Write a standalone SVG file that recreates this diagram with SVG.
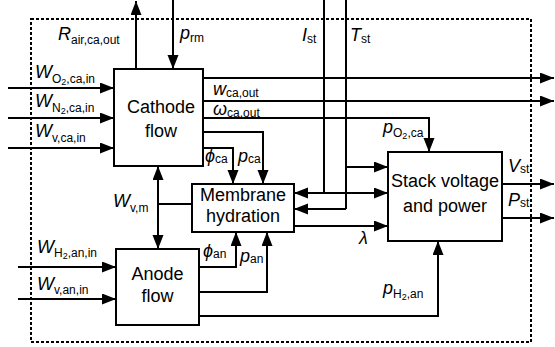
<svg xmlns="http://www.w3.org/2000/svg" width="555" height="347" viewBox="0 0 555 347">
<style>
.box{fill:#fff;stroke:#000;stroke-width:2}
.ln{fill:none;stroke:#000;stroke-width:2}
.frame{fill:none;stroke:#000;stroke-width:2;stroke-dasharray:3,2}
.arr{marker-end:url(#ah)}
.t{font-family:"Liberation Sans",Arial,sans-serif;font-size:18px;fill:#000;text-anchor:middle}
.v{font-family:"Liberation Sans",Arial,sans-serif;font-size:18px;font-style:italic;fill:#000}
.s{font-size:12px;font-style:normal}
.ss{font-size:9px;font-style:normal}
</style>
<defs>
<marker id="ah" markerUnits="userSpaceOnUse" markerWidth="15" markerHeight="12" refX="14" refY="5.5" orient="auto">
<path d="M0,0 L14,5.5 L0,11 z" fill="#000"/>
</marker>
<marker id="ahs" markerUnits="userSpaceOnUse" markerWidth="15" markerHeight="12" refX="14" refY="5.5" orient="auto-start-reverse">
<path d="M0,0 L14,5.5 L0,11 z" fill="#000"/>
</marker>
</defs>
<rect class="frame" x="31" y="19" width="500" height="323"/>
<g id="connectors">
<line class="ln arr" x1="136" y1="69" x2="136" y2="1"/>
<line class="ln arr" x1="173" y1="0" x2="173" y2="69"/>
<line class="ln arr" x1="8" y1="88" x2="114" y2="88"/>
<line class="ln arr" x1="8" y1="118" x2="114" y2="118"/>
<line class="ln arr" x1="8" y1="148" x2="114" y2="148"/>
<line class="ln arr" x1="203" y1="78" x2="554" y2="78"/>
<line class="ln arr" x1="203" y1="101" x2="554" y2="101"/>
<polyline class="ln arr" points="203,118 429,118 429,152"/>
<polyline class="ln arr" points="203,132 263,132 263,184"/>
<polyline class="ln arr" points="203,148 233,148 233,184"/>
<line class="ln" x1="158" y1="166" x2="158" y2="249" marker-start="url(#ahs)" marker-end="url(#ahs)"/>
<line class="ln" x1="158" y1="204" x2="192" y2="204"/>
<line class="ln arr" x1="18" y1="267" x2="116" y2="267"/>
<line class="ln arr" x1="18" y1="299" x2="116" y2="299"/>
<polyline class="ln arr" points="199,267 236,267 236,232"/>
<polyline class="ln arr" points="199,292 267,292 267,232"/>
<polyline class="ln arr" points="199,316 438,316 438,241"/>
<line class="ln" x1="324" y1="0" x2="324" y2="193"/>
<line class="ln" x1="346" y1="0" x2="346" y2="209"/>
<line class="ln arr" x1="346" y1="167" x2="388" y2="167"/>
<line class="ln" x1="294" y1="193" x2="388" y2="193" marker-start="url(#ahs)" marker-end="url(#ahs)"/>
<line class="ln arr" x1="346" y1="209" x2="294" y2="209"/>
<line class="ln arr" x1="294" y1="226" x2="388" y2="226"/>
<line class="ln arr" x1="502" y1="184" x2="554" y2="184"/>
<line class="ln arr" x1="502" y1="218" x2="554" y2="218"/>
</g>
<g id="cathode">
<rect class="box" x="114" y="69" width="89" height="97"/>
<text class="t" x="161" y="113">Cathode</text>
<text class="t" x="161" y="137">flow</text>
</g>
<g id="membrane">
<rect class="box" x="192" y="184" width="102" height="48"/>
<text class="t" x="243" y="201">Membrane</text>
<text class="t" x="243" y="222">hydration</text>
</g>
<g id="anode">
<rect class="box" x="116" y="249" width="83" height="76"/>
<text class="t" x="157.5" y="280">Anode</text>
<text class="t" x="157.5" y="302">flow</text>
</g>
<g id="stack">
<rect class="box" x="388" y="152" width="114" height="89"/>
<text class="t" x="445" y="187">Stack voltage</text>
<text class="t" x="445" y="212">and power</text>
</g>
<g id="labels">
<text class="v" x="58" y="40">R<tspan class="s" dy="4">air,ca,out</tspan></text>
<text class="v" x="180" y="39">p<tspan class="s" dy="3">rm</tspan></text>
<text class="v" x="302" y="41">I<tspan class="s" dy="2">st</tspan></text>
<text class="v" x="350" y="41">T<tspan class="s" dy="2">st</tspan></text>
<text class="v" x="35" y="78">W<tspan class="s" dy="5">O</tspan><tspan class="ss" dy="2">2</tspan><tspan class="s" dy="-2">,ca,in</tspan></text>
<text class="v" x="35" y="107">W<tspan class="s" dy="5">N</tspan><tspan class="ss" dy="2">2</tspan><tspan class="s" dy="-2">,ca,in</tspan></text>
<text class="v" x="35" y="137">W<tspan class="s" dy="5">v,ca,in</tspan></text>
<text class="v" x="213" y="95">w<tspan class="s" dy="2">ca,out</tspan></text>
<text class="v" x="213" y="115">ω<tspan class="s" dy="2">ca,out</tspan></text>
<text class="v" x="205" y="162">ϕ<tspan class="s" dy="1">ca</tspan></text>
<text class="v" x="238" y="162">p<tspan class="s" dy="1">ca</tspan></text>
<text class="v" x="113" y="207">W<tspan class="s" dy="5">v,m</tspan></text>
<text class="v" x="37" y="253">W<tspan class="s" dy="4">H</tspan><tspan class="ss" dy="2">2</tspan><tspan class="s" dy="-2">,an,in</tspan></text>
<text class="v" x="37" y="290">W<tspan class="s" dy="4">v,an,in</tspan></text>
<text class="v" x="203" y="257">ϕ<tspan class="s" dy="1">an</tspan></text>
<text class="v" x="240" y="262">p<tspan class="s" dy="1">an</tspan></text>
<text class="v" x="359" y="244">λ</text>
<text class="v" x="383" y="133">p<tspan class="s" dy="4">O</tspan><tspan class="ss" dy="2">2</tspan><tspan class="s" dy="-2">,ca</tspan></text>
<text class="v" x="383" y="294">p<tspan class="s" dy="4">H</tspan><tspan class="ss" dy="2">2</tspan><tspan class="s" dy="-2">,an</tspan></text>
<text class="v" x="508" y="172">V<tspan class="s" dy="1">st</tspan></text>
<text class="v" x="508" y="206">P<tspan class="s" dy="1">st</tspan></text>
</g>
</svg>
